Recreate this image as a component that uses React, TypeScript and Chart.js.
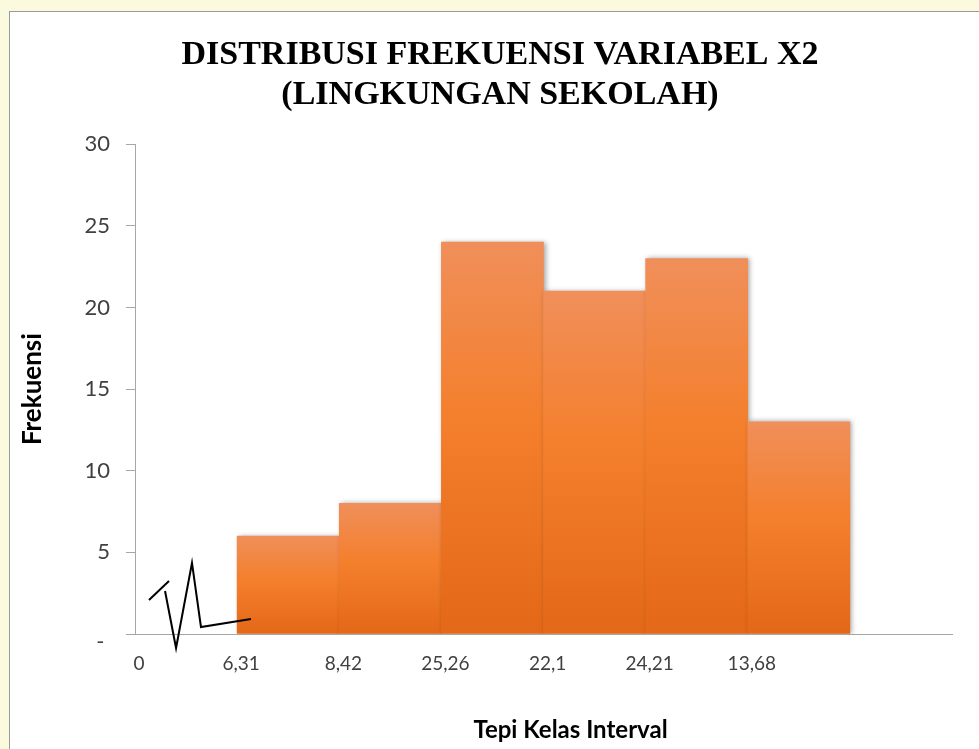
import React, { useEffect, useRef } from "react";
import { Chart, registerables } from "chart.js";

Chart.register(...registerables);

const categories = ["0", "6,31", "8,42", "25,26", "22,1", "24,21", "13,68", ""];
const frequencies: (number | null)[] = [null, 6, 8, 24, 21, 23, 13, null];
const yMin = 0;
const yMax = 30;
const yStep = 5;
const titleLines = ["DISTRIBUSI FREKUENSI VARIABEL X2", "(LINGKUNGAN SEKOLAH)"];
const yTitle = "Frekuensi";
const xTitle = "Tepi Kelas Interval";
// hand-drawn axis-break mark, in data units: [category index, value]
const breakStroke: [number, number][] = [[-0.363, 2.08], [-0.167, 3.25]];
const breakZigzag: [number, number][] = [[-0.206, 2.63], [-0.098, -0.86], [0.058, 4.35], [0.146, 0.43], [0.636, 0.92]];

const AXIS_GRAY = "#A6A6A6";
const LABEL_COLOR = "#404040";
const SANS = "Lato, 'Open Sans', sans-serif";

const framePlugin = {
  id: "frame",
  beforeDraw(chart: any) {
    const c = chart.ctx;
    c.save();
    c.fillStyle = "#FBF9DE";
    c.fillRect(0, 0, chart.width, chart.height);
    c.fillStyle = "#FFFFFF";
    c.fillRect(9, 11, chart.width, chart.height);
    c.strokeStyle = "#9A9A9A";
    c.lineWidth = 1;
    c.strokeRect(9.5, 11.5, chart.width + 10, chart.height + 10);
    c.restore();
  },
};

const axisTitlesPlugin = {
  id: "axisTitlesText",
  afterDraw(chart: any) {
    const c = chart.ctx;
    const area = chart.chartArea;
    c.save();
    c.fillStyle = "#000000";
    c.textAlign = "center";
    c.textBaseline = "middle";
    c.font = `bold 24px ${SANS}`;
    c.fillText(xTitle, (area.left + area.right) / 2 + 27, area.bottom + 96);
    c.translate(33, (area.top + area.bottom) / 2);
    c.rotate(-Math.PI / 2);
    c.font = `bold 26px ${SANS}`;
    c.fillText(yTitle, 0, 0);
    c.restore();
  },
};

const shadowPlugin = {
  id: "barShadow",
  beforeDatasetsDraw(chart: any) {
    const c = chart.ctx;
    c.save();
    c.shadowColor = "rgba(0,0,0,0.35)";
    c.shadowBlur = 5;
    c.shadowOffsetX = 2;
    c.shadowOffsetY = 0;
  },
  afterDatasetsDraw(chart: any) {
    chart.ctx.restore();
    const c = chart.ctx;
    const xs = chart.scales.x;
    const ys = chart.scales.y;
    const path = (pts: [number, number][]) => {
      c.beginPath();
      pts.forEach(([vx, vy], i) => {
        const px = xs.getPixelForValue(vx);
        const py = ys.getPixelForValue(vy);
        if (i === 0) c.moveTo(px, py);
        else c.lineTo(px, py);
      });
      c.stroke();
    };
    c.save();
    c.strokeStyle = "#000000";
    c.lineWidth = 2;
    c.lineJoin = "miter";
    path(breakStroke);
    path(breakZigzag);
    c.restore();
  },
};

export default function App() {
  const ref = useRef<HTMLCanvasElement | null>(null);

  useEffect(() => {
    if (!ref.current) return;
    const chart = new Chart(ref.current, {
      type: "bar",
      data: {
        labels: categories,
        datasets: [
          {
            data: frequencies as any,
            barPercentage: 1,
            categoryPercentage: 1,
            borderWidth: 0,
            backgroundColor: (ctx: any) => {
              const ch = ctx.chart;
              const { chartArea, scales } = ch;
              if (!chartArea || !scales.y || ctx.type !== "data") return "#F27D2E";
              const v = ctx.raw;
              if (v == null) return "rgba(0,0,0,0)";
              const top = scales.y.getPixelForValue(v);
              const bottom = scales.y.getPixelForValue(0);
              const g = ch.ctx.createLinearGradient(0, top, 0, bottom);
              g.addColorStop(0, "#F08F5A");
              g.addColorStop(0.45, "#F47F2C");
              g.addColorStop(1, "#E36817");
              return g;
            },
          },
        ],
      },
      options: {
        animation: false,
        responsive: false,
        layout: { padding: { left: 48, right: 27, top: 0, bottom: 0 } },
        plugins: {
          legend: { display: false },
          tooltip: { enabled: false },
          title: {
            display: true,
            text: titleLines,
            color: "#000000",
            font: { family: "'Liberation Serif', 'Times New Roman', serif", size: 34, weight: "bold", lineHeight: 1.18 },
            padding: { top: 35, bottom: 29 },
          },
        },
        scales: {
          x: {
            type: "category",
            offset: true,
            grid: { display: false, drawTicks: false },
            border: { display: true, color: AXIS_GRAY, width: 1 },
            ticks: {
              autoSkip: false,
              maxRotation: 0,
              minRotation: 0,
              labelOffset: -47,
              padding: 18,
              color: LABEL_COLOR,
              font: { family: SANS, size: 19 },
            },
            title: { display: false },
            afterFit: (scale: any) => {
              scale.height = 115;
            },
          },
          y: {
            min: yMin,
            max: yMax,
            grid: { display: true, drawOnChartArea: false, drawTicks: true, tickLength: 9, color: AXIS_GRAY },
            border: { display: true, color: AXIS_GRAY, width: 1 },
            ticks: {
              stepSize: yStep,
              padding: 16,
              color: LABEL_COLOR,
              font: (ctx: any) =>
                ctx.tick && ctx.tick.value === 0
                  ? { family: SANS, size: 22, lineHeight: 0.75 }
                  : { family: SANS, size: 22 },
              callback: (value: any) => (Number(value) === 0 ? ["", "- "] : String(value)),
            },
            title: { display: false },
            afterFit: (scale: any) => {
              scale.width = 87;
            },
          },
        },
      },
      plugins: [framePlugin, shadowPlugin, axisTitlesPlugin],
    });
    return () => chart.destroy();
  }, []);

  return (
    <div style={{ position: "fixed", left: 0, top: 0, width: 979, height: 749 }}>
      <canvas ref={ref} width={979} height={749} />
    </div>
  );
}
